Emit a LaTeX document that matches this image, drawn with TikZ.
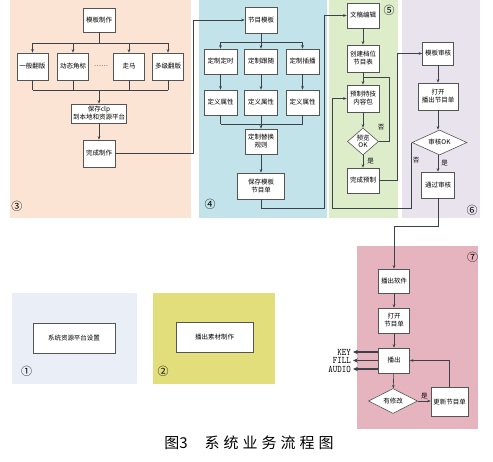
\documentclass[tikz,border=0pt]{standalone}
\usepackage{fontspec}
\newfontfamily\cjk{Noto Sans CJK SC}
\usetikzlibrary{arrows.meta, positioning, calc, shapes.geometric}
\usepackage{xcolor}
\definecolor{peach}{RGB}{252,228,212}
\definecolor{skyblue}{RGB}{194,227,233}
\definecolor{palegreen}{RGB}{221,236,201}
\definecolor{lavender}{RGB}{233,227,238}
\definecolor{rosepink}{RGB}{229,180,190}
\definecolor{mistblue}{RGB}{234,239,247}
\definecolor{mustard}{RGB}{226,222,124}
\definecolor{boxline}{RGB}{85,85,85}
\definecolor{flowline}{RGB}{60,66,75}

\tikzset{
  box/.style={draw=boxline, fill=white, line width=0.6pt, inner sep=1pt, align=center,
    minimum width=32, minimum height=25, font=\cjk\fontsize{6.5}{8}\selectfont},
  decision/.style={diamond, aspect=2, draw=boxline, fill=white, line width=0.6pt, inner sep=0pt,
    align=center, font=\cjk\fontsize{6.5}{8}\selectfont},
  flow/.style={draw=flowline, line width=0.6pt, -{Stealth[length=3.5pt,width=2.6pt]}},
  wire/.style={draw=flowline, line width=0.6pt},
  outarrow/.style={draw=flowline, line width=1.2pt, -{Stealth[length=5pt,width=4.5pt]}},
  tag/.style={font=\cjk\fontsize{6.5}{8}\selectfont, inner sep=0pt},
  sig/.style={font=\ttfamily\fontsize{10}{10}\selectfont, inner sep=0pt},
  num/.style={font=\cjk\fontsize{11}{11}\selectfont, inner sep=0pt},
}

\begin{document}
\begin{tikzpicture}[x=1pt, y=-1pt]
  \useasboundingbox (0,0) rectangle (493,461);
  \fill[white] (0,0) rectangle (493,461);

  % panels
  \fill[peach] (10,0) rectangle (191,218);
  \fill[skyblue] (199,0) rectangle (327,218);
  \fill[palegreen] (329,0) rectangle (398,218);
  \fill[lavender] (402,0) rectangle (480,218);
  \fill[rosepink] (357,246) rectangle (478,429);
  \fill[mistblue] (12,293) rectangle (137,384);
  \fill[mustard] (153,293) rectangle (275,384);

  \node[num] (n1) at (26.5,371) {①};
  \node[num] (n2) at (163,371) {②};
  \node[num] (n3) at (17,206) {③};
  \node[num] (n4) at (210,204) {④};
  \node[num] (n5) at (389,10) {⑤};
  \node[num] (n6) at (472,210) {⑥};
  \node[num] (n7) at (472.5,257) {⑦};

  % panel 1 and 2
  \node[box, minimum width=82, minimum height=30] (sysset) at (74,338) {系统资源平台设置};
  \node[box, minimum width=77, minimum height=30] (material) at (214.5,337.5) {播出素材制作};

  % panel 3
  \node[box, minimum height=24] (tplmake) at (99,20) {模板制作};
  \foreach \i/\x/\t in {1/32.5/一般翻版, 2/73/动态角标, 3/129/走马, 4/168/多级翻版}
    \node[box, minimum width=31, minimum height=27] (br\i) at (\x,66.5) {\t};
  \node[tag] (dots) at (101,66.5) {……};
  \node[box, minimum width=55, minimum height=19] (saveclp) at (99,113.5) {保存clp\\到本地和资源平台};
  \node[box, minimum height=27] (done3) at (99,153.5) {完成制作};

  \coordinate (split3) at (99,43);
  \coordinate (join3) at (99,90);
  \draw[wire] (tplmake) -- (split3);
  \draw[wire] (br1 |- split3) -- (br4 |- split3);
  \draw[wire] (br1 |- join3) -- (br4 |- join3);
  \foreach \i in {1,...,4} {
    \draw[flow] (br\i |- split3) -- (br\i.north);
    \draw[wire] (br\i.south) -- (br\i |- join3);
  }
  \draw[flow] (join3) -- (saveclp);
  \draw[flow] (saveclp) -- (done3);

  % panel 4
  \node[box, minimum height=26] (tpl4) at (261,20) {节目模板};
  \foreach \i/\x/\t in {1/220.5/定制定时, 2/261/定制跟随, 3/302.5/定制插播} {
    \node[box, minimum width=33] (cus\i) at (\x,61.5) {\t};
    \node[box, minimum width=33] (attr\i) at (\x,102.5) {定义属性};
    \draw[flow] (cus\i) -- (attr\i);
  }
  \node[box] (rule) at (261,141.5) {定制替换\\规则};
  \node[box, minimum width=47, minimum height=26] (save4) at (261,186) {保存模板\\节目单};

  \coordinate (split4) at (261,42);
  \coordinate (join4) at (261,124);
  \draw[wire] (tpl4) -- (split4);
  \draw[wire] (cus1 |- split4) -- (cus3 |- split4);
  \draw[wire] (attr1 |- join4) -- (attr3 |- join4);
  \foreach \i in {1,2,3} {
    \draw[flow] (cus\i |- split4) -- (cus\i.north);
    \draw[wire] (attr\i.south) -- (attr\i |- join4);
  }
  \draw[flow] (join4) -- (rule);
  \draw[flow] (rule) -- (save4);

  % panel 5
  \node[box] (edit) at (363,15.5) {文稿编辑};
  \node[box, minimum height=27] (sched) at (363,58.5) {创建档位\\节目表};
  \node[box, minimum height=27] (pack) at (363,98.5) {预制特技\\内容包};
  \node[decision, aspect=1.2, minimum width=31, minimum height=27, font=\cjk\fontsize{6.5}{7}\selectfont] (prev) at (363,141.5) {预览\\OK};
  \node[box] (fin5) at (363,180.5) {完成预制};

  \draw[flow] (edit) -- (sched);
  \draw[flow] (sched) -- (pack);
  \draw[flow] (pack) -- (prev);
  \draw[flow] (prev) -- node[tag, right=4pt] {是} (fin5);
  \coordinate (loop5) at (363,77);
  \coordinate (loop5r) at (389,77);
  \draw[wire] (prev.east) -| (loop5r) -- (loop5);
  \node[tag] (no5) at (381,127) {否};

  % panel 6
  \node[box, minimum width=31, minimum height=23] (audit) at (438,53.5) {模板审核};
  \node[box, minimum width=40, minimum height=27] (openlist) at (438,96.5) {打开\\播出节目单};
  \node[decision, minimum width=55, minimum height=25] (ok6) at (439.5,142.5) {审核OK};
  \node[box, minimum width=33, minimum height=26] (pass) at (438,185) {通过审核};

  \draw[flow] (audit) -- (openlist);
  \draw[flow] (openlist) -- (ok6.north -| openlist);
  \draw[flow] (ok6.south -| pass) -- node[tag, right=3pt] {是} (pass);
  \node[tag] (no6) at (416,160) {否};

  % panel 7
  \node[box, minimum width=31, minimum height=24] (soft) at (394,281) {播出软件};
  \node[box, minimum width=31] (open7) at (394,320.5) {打开\\节目单};
  \node[box, minimum width=31] (play) at (394,360.5) {播出};
  \node[decision, minimum width=49, minimum height=25] (mod) at (393,401) {有修改};
  \node[box, minimum width=37, minimum height=29] (upd) at (449.5,402) {更新节目单};

  \draw[flow] (soft) -- (open7);
  \draw[flow] (open7) -- (play);
  \draw[flow] (play) -- (mod);
  \draw[flow] (mod.east) -- node[tag, above=2pt] {是} (mod.east -| upd.west);
  \draw[flow] (upd.north) |- (play.east);
  \foreach \y/\t in {352/KEY, 360.5/FILL, 369/AUDIO} {
    \coordinate (out\t) at (353,\y);
    \draw[outarrow] (play.west |- out\t) -- (out\t);
    \node[sig, anchor=east] (lbl\t) at ($(out\t)+(-2,0)$) {\scalebox{0.85}[1]{\t}};
  }

  % long connectors between panels
  \coordinate (bend34) at (193,153.5);
  \coordinate (bend45) at (324,208);
  \coordinate (bend56) at (397,180.5);
  \coordinate (rej5) at (332,208);
  \coordinate (bend67) at (394,226);
  \draw[flow] (done3.east) -- (bend34) |- (tpl4.west);
  \draw[flow] (save4.south) |- (bend45) |- (edit.west);
  \draw[flow] (fin5.east) -- (bend56) |- (audit.west);
  \draw[flow] (ok6.west) |- (rej5) |- (pack.west);
  \draw[flow] (pass.south) |- (bend67) -- (soft.north);

  % caption
  \node[font=\cjk\fontsize{15}{15}\selectfont, inner sep=0pt] (caption) at (249,443)
    {图3\hspace{17pt}系\hspace{4pt}统\hspace{4pt}业\hspace{4pt}务\hspace{4pt}流\hspace{4pt}程\hspace{4pt}图};
\end{tikzpicture}
\end{document}
